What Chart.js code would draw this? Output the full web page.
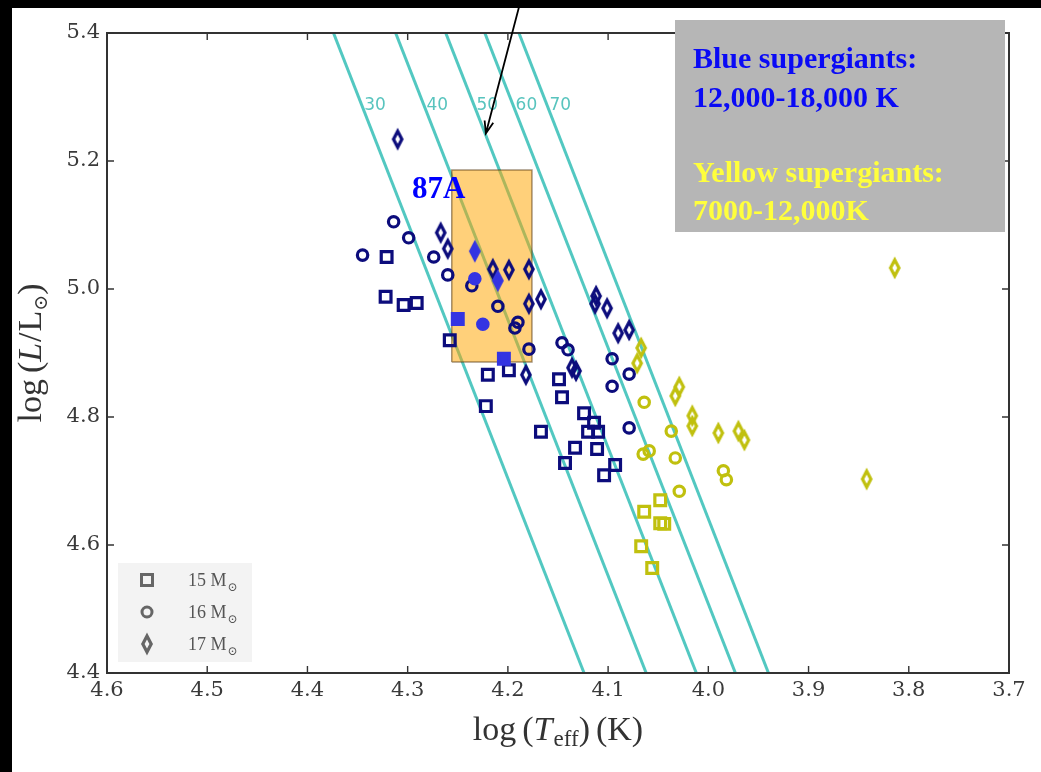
<!DOCTYPE html>
<html>
<head>
<meta charset="utf-8">
<script src="https://cdn.jsdelivr.net/npm/chart.js@4/dist/chart.umd.min.js"></script>
<style>
  html, body { margin: 0; padding: 0; background: #fff; }
  canvas { display: block; }
</style>
</head>
<body>
<canvas id="hrd" width="1041" height="772"></canvas>
<script>
// --- data (log Teff, log L/Lsun) ---
const massLabels = ['15', '16', '17'];

const blue15T = [4.321, 4.322, 4.304, 4.291, 4.258, 4.220, 4.199, 4.222, 4.149, 4.146, 4.167, 4.124, 4.114, 4.120, 4.110, 4.133, 4.111, 4.143, 4.093, 4.104];
const blue15L = [5.050, 4.988, 4.975, 4.978, 4.920, 4.866, 4.873, 4.817, 4.859, 4.831, 4.777, 4.806, 4.791, 4.777, 4.777, 4.752, 4.750, 4.728, 4.725, 4.709];

const blue16T = [4.314, 4.299, 4.345, 4.274, 4.260, 4.236, 4.210, 4.190, 4.193, 4.179, 4.146, 4.140, 4.096, 4.079, 4.096, 4.079];
const blue16L = [5.105, 5.080, 5.053, 5.050, 5.022, 5.005, 4.973, 4.948, 4.939, 4.906, 4.916, 4.905, 4.891, 4.867, 4.848, 4.783];

const blue17T = [4.310, 4.267, 4.260, 4.215, 4.199, 4.179, 4.179, 4.167, 4.182, 4.112, 4.113, 4.101, 4.090, 4.079, 4.136, 4.132];
const blue17L = [5.234, 5.088, 5.063, 5.031, 5.030, 5.031, 4.977, 4.984, 4.866, 4.989, 4.977, 4.970, 4.931, 4.936, 4.877, 4.872];

const sn15T = [4.250, 4.204];
const sn15L = [4.953, 4.891];
const sn16T = [4.233, 4.225];
const sn16L = [5.016, 4.945];
const sn17T = [4.233, 4.210];
const sn17L = [5.059, 5.013];

const yellow15T = [4.048, 4.064, 4.048, 4.044, 4.067, 4.056];
const yellow15L = [4.670, 4.652, 4.634, 4.633, 4.598, 4.564];
const yellow16T = [4.064, 4.037, 4.065, 4.059, 4.033, 4.029, 3.985, 3.982];
const yellow16L = [4.823, 4.778, 4.742, 4.747, 4.736, 4.684, 4.716, 4.702];
const yellow17T = [4.067, 4.071, 4.029, 4.033, 4.016, 4.016, 3.990, 3.970, 3.964, 3.814, 3.842];
const yellow17L = [4.908, 4.884, 4.847, 4.833, 4.802, 4.786, 4.775, 4.778, 4.764, 5.033, 4.703];

// constant-radius lines: log Teff where they cross the top (5.4) and bottom (4.4) of the frame
const isoLabels = ['30', '40', '50', '60', '70'];
const isoL = [5.4, 4.4];
const isoTopT = [4.374, 4.312, 4.262, 4.223, 4.189];
const isoBottomT = [4.124, 4.062, 4.012, 3.973, 3.940];

// SN 1987A progenitor box
const boxT = [4.256, 4.176];
const boxL = [4.886, 5.186];

// annotation arrow (tail, head)
const arrowT = [4.187, 4.222];
const arrowL = [5.452, 5.243];

const xTicks = [4.6, 4.5, 4.4, 4.3, 4.2, 4.1, 4.0, 3.9, 3.8, 3.7];
const yTicks = [4.4, 4.6, 4.8, 5.0, 5.2, 5.4];

const NAVY = '#0c0c7c';
const YELLOW = '#c0c00e';
const SNBLUE = '#3434e2';
const TEAL = '#52c8c1';
const SERIF = '"Liberation Serif", "DejaVu Serif", serif';

const zip = (t, l) => t.map((v, i) => ({ x: v, y: l[i] }));

function diamond(stroke, fill) {
    const c = document.createElement('canvas');
    c.width = 16; c.height = 26;
    const g = c.getContext('2d');
    g.beginPath();
    g.moveTo(8, 5); g.lineTo(12.2, 13); g.lineTo(8, 21); g.lineTo(3.8, 13);
    g.closePath();
    if (fill) { g.fillStyle = fill; g.fill(); }
    g.lineWidth = 3.2;
    g.strokeStyle = stroke;
    g.stroke();
    return c;
}

function markers(t, l, shape, color, filled) {
    const base = {
        data: zip(t, l),
        borderColor: color,
        backgroundColor: filled ? color : 'rgba(0,0,0,0)',
        borderWidth: 3.2,
        pointBorderWidth: 3.2,
        order: 0,
    };
    if (shape === 'rect') return Object.assign(base, { pointStyle: 'rect', pointRadius: 7.6 });
    if (shape === 'circle') return Object.assign(base, { pointStyle: 'circle', pointRadius: 5.2 });
    return Object.assign(base, { pointStyle: diamond(color, filled ? color : null), pointRadius: 6 });
}

const isoSets = isoLabels.map((lab, i) => ({
    type: 'line',
    label: lab,
    data: [{ x: isoTopT[i], y: isoL[0] }, { x: isoBottomT[i], y: isoL[1] }],
    borderColor: TEAL,
    borderWidth: 3,
    pointRadius: 0,
    fill: false,
    order: 2,
}));

const boxSet = {
    type: 'line',
    data: [
        { x: boxT[0], y: boxL[0] }, { x: boxT[0], y: boxL[1] },
        { x: boxT[1], y: boxL[1] }, { x: boxT[1], y: boxL[0] },
        { x: boxT[0], y: boxL[0] },
    ],
    borderColor: 'rgba(90,60,20,0.55)',
    borderWidth: 1.5,
    backgroundColor: 'rgba(255,165,0,0.52)',
    fill: 'shape',
    pointRadius: 0,
    tension: 0,
    order: 1,
};

function textParts(ctx, parts) {
    let w = 0;
    parts.forEach(p => { ctx.font = p.font; w += ctx.measureText(p.text).width + (p.gap || 0); });
    return w;
}
function drawParts(ctx, parts, x, y) {
    let cx = x;
    parts.forEach(p => {
        ctx.font = p.font;
        ctx.fillText(p.text, cx, y + (p.dy || 0));
        cx += ctx.measureText(p.text).width + (p.gap || 0);
    });
}

const decor = {
    id: 'decor',
    beforeDraw(chart) {
        const ctx = chart.ctx;
        ctx.save();
        ctx.fillStyle = '#fff';
        ctx.fillRect(0, 0, chart.width, chart.height);
        ctx.fillStyle = '#000';
        ctx.fillRect(0, 0, chart.width, 8);
        ctx.fillRect(0, 0, 12, chart.height);
        ctx.restore();
    },
    afterDraw(chart) {
        const ctx = chart.ctx;
        const a = chart.chartArea;
        const xs = chart.scales.x, ys = chart.scales.y;
        ctx.save();

        // frame and inward ticks
        ctx.strokeStyle = '#333';
        ctx.lineWidth = 2;
        ctx.strokeRect(a.left, a.top, a.right - a.left, a.bottom - a.top);
        ctx.lineWidth = 1.4;
        ctx.beginPath();
        xTicks.forEach(v => {
            const px = xs.getPixelForValue(v);
            ctx.moveTo(px, a.bottom); ctx.lineTo(px, a.bottom - 7);
            ctx.moveTo(px, a.top); ctx.lineTo(px, a.top + 7);
        });
        yTicks.forEach(v => {
            const py = ys.getPixelForValue(v);
            ctx.moveTo(a.left, py); ctx.lineTo(a.left + 7, py);
            ctx.moveTo(a.right, py); ctx.lineTo(a.right - 7, py);
        });
        ctx.stroke();

        // radius labels
        ctx.fillStyle = '#58c4be';
        ctx.font = '17px "DejaVu Sans", sans-serif';
        ctx.textAlign = 'center';
        ctx.textBaseline = 'middle';
        const labL = 5.286;
        isoLabels.forEach((lab, i) => {
            const t = isoTopT[i] + (isoBottomT[i] - isoTopT[i]) * (isoL[0] - labL) / (isoL[0] - isoL[1]);
            ctx.fillText(lab, xs.getPixelForValue(t) + 13, ys.getPixelForValue(labL));
        });

        // axis titles
        ctx.fillStyle = '#333';
        ctx.textAlign = 'left';
        ctx.textBaseline = 'alphabetic';
        const fR = '34px ' + SERIF, fI = 'italic 34px ' + SERIF;
        const xParts = [
            { text: 'log', font: fR, gap: 6 }, { text: '(', font: fR }, { text: 'T', font: fI, gap: 1 },
            { text: 'eff', font: '23px ' + SERIF, dy: 6 }, { text: ')', font: fR, gap: 6 }, { text: '(K)', font: fR },
        ];
        const xw = textParts(ctx, xParts);
        drawParts(ctx, xParts, (a.left + a.right) / 2 - xw / 2, 740);

        const yParts = [
            { text: 'log', font: fR, gap: 6 }, { text: '(', font: fR }, { text: 'L', font: fI, gap: 1 },
            { text: '/', font: fR, gap: 1 }, { text: 'L', font: fR },
            { text: '\u2299', font: '19px "DejaVu Serif", serif', dy: 6 }, { text: ')', font: fR },
        ];
        const yw = textParts(ctx, yParts);
        ctx.save();
        ctx.translate(41, (a.top + a.bottom) / 2);
        ctx.rotate(-Math.PI / 2);
        drawParts(ctx, yParts, -yw / 2, 0);
        ctx.restore();

        // grey note box
        ctx.fillStyle = '#b6b6b6';
        ctx.fillRect(675, 20, 330, 212);
        ctx.font = 'bold 30px ' + SERIF;
        ctx.fillStyle = '#0a0af5';
        ctx.fillText('Blue supergiants:', 693, 68);
        ctx.fillText('12,000-18,000 K', 693, 107);
        ctx.fillStyle = '#ffff3c';
        ctx.fillText('Yellow supergiants:', 693, 182);
        ctx.fillText('7000-12,000K', 693, 220);

        // 87A label
        ctx.font = 'bold 31px ' + SERIF;
        ctx.fillStyle = '#0000ff';
        ctx.textAlign = 'center';
        ctx.fillText('87A', xs.getPixelForValue(4.269), ys.getPixelForValue(5.159) + 11);

        // arrow
        const x0 = xs.getPixelForValue(arrowT[0]), y0 = ys.getPixelForValue(arrowL[0]);
        const x1 = xs.getPixelForValue(arrowT[1]), y1 = ys.getPixelForValue(arrowL[1]);
        const ang = Math.atan2(y1 - y0, x1 - x0);
        ctx.strokeStyle = '#000';
        ctx.lineWidth = 1.8;
        ctx.beginPath();
        ctx.moveTo(x0, y0); ctx.lineTo(x1, y1);
        ctx.moveTo(x1 - 13 * Math.cos(ang - 0.35), y1 - 13 * Math.sin(ang - 0.35));
        ctx.lineTo(x1, y1);
        ctx.lineTo(x1 - 13 * Math.cos(ang + 0.35), y1 - 13 * Math.sin(ang + 0.35));
        ctx.stroke();

        // legend
        const lx = a.left + 11, ly = a.bottom - 110;
        ctx.fillStyle = '#f3f3f3';
        ctx.fillRect(lx, ly, 134, 99);
        ctx.strokeStyle = '#666';
        ctx.lineWidth = 3;
        const mx = lx + 29;
        const rows = [ly + 17, ly + 49, ly + 81];
        ctx.strokeRect(mx - 5.5, rows[0] - 5.5, 11, 11);
        ctx.beginPath(); ctx.arc(mx, rows[1], 5, 0, Math.PI * 2); ctx.stroke();
        ctx.drawImage(diamond('#666', null), mx - 8, rows[2] - 13);
        ctx.fillStyle = '#555';
        ctx.textAlign = 'left';
        massLabels.forEach((m, i) => {
            drawParts(ctx, [
                { text: m + ' M', font: '18px ' + SERIF, gap: 1 },
                { text: '\u2299', font: '12px "DejaVu Serif", serif', dy: 5 },
            ], lx + 70, rows[i] + 6);
        });

        ctx.restore();
    }
};

new Chart(document.getElementById('hrd'), {
    type: 'scatter',
    data: {
        datasets: [
            markers(sn15T, sn15L, 'rect', SNBLUE, true),
            markers(sn16T, sn16L, 'circle', SNBLUE, true),
            markers(sn17T, sn17L, 'diamond', SNBLUE, true),
            markers(blue15T, blue15L, 'rect', NAVY, false),
            markers(blue16T, blue16L, 'circle', NAVY, false),
            markers(blue17T, blue17L, 'diamond', NAVY, false),
            markers(yellow15T, yellow15L, 'rect', YELLOW, false),
            markers(yellow16T, yellow16L, 'circle', YELLOW, false),
            markers(yellow17T, yellow17L, 'diamond', YELLOW, false),
            boxSet,
            ...isoSets,
        ]
    },
    options: {
        responsive: false,
        animation: false,
        devicePixelRatio: 1,
        layout: { padding: { top: 33, right: 32, left: 0, bottom: 0 } },
        plugins: { legend: { display: false }, tooltip: { enabled: false } },
        scales: {
            x: {
                type: 'linear',
                min: 3.7, max: 4.6, reverse: true,
                afterFit: s => { s.height = 99; },
                afterBuildTicks: s => { s.ticks = xTicks.map(v => ({ value: v })); },
                ticks: {
                    callback: v => v.toFixed(1), padding: 5, maxRotation: 0, autoSkip: false,
                    color: '#3a3a3a', font: { family: 'DejaVu Serif', size: 21 },
                },
                grid: { display: false, drawTicks: false },
                border: { display: false },
            },
            y: {
                min: 4.4, max: 5.4,
                afterFit: s => { s.width = 107; },
                afterBuildTicks: s => { s.ticks = yTicks.map(v => ({ value: v })); },
                ticks: {
                    callback: v => v.toFixed(1), padding: 7,
                    color: '#3a3a3a', font: { family: 'DejaVu Serif', size: 21 },
                },
                grid: { display: false, drawTicks: false },
                border: { display: false },
            }
        }
    },
    plugins: [decor]
});
</script>
</body>
</html>
